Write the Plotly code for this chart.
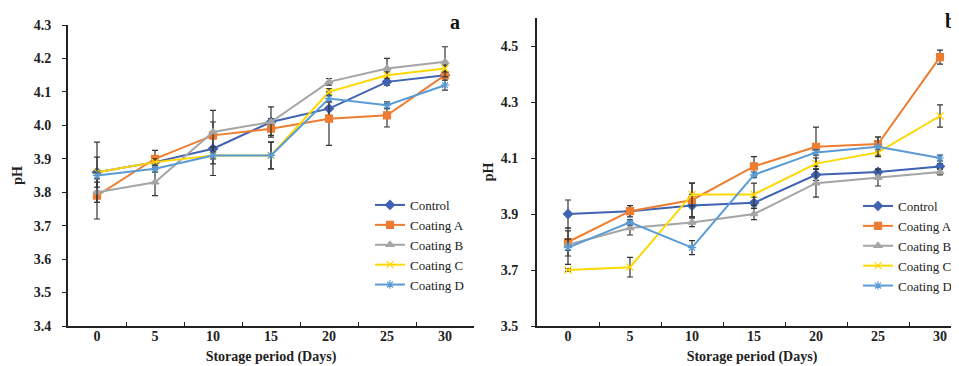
import plotly.graph_objects as go

days = ["0", "5", "10", "15", "20", "25", "30"]
series_names = ["Control", "Coating A", "Coating B", "Coating C", "Coating D"]

# Panel a
a_control = [3.86, 3.89, 3.93, 4.01, 4.05, 4.13, 4.15]
a_coat_a = [3.79, 3.90, 3.97, 3.99, 4.02, 4.03, 4.15]
a_coat_b = [3.80, 3.83, 3.98, 4.01, 4.13, 4.17, 4.19]
a_coat_c = [3.86, 3.89, 3.91, 3.91, 4.10, 4.15, 4.17]
a_coat_d = [3.85, 3.87, 3.91, 3.91, 4.08, 4.06, 4.12]
a_err_control = [0.045, 0.01, 0.08, 0.01, 0.02, 0.01, 0.01]
a_err_a = [0.07, 0.025, 0.01, 0.02, 0.08, 0.035, 0.01]
a_err_b = [0.03, 0.04, 0.065, 0.045, 0.01, 0.03, 0.045]
a_err_c = [0.09, 0.01, 0.01, 0.04, 0.01, 0.01, 0.01]
a_err_d = [0.01, 0.01, 0.025, 0.04, 0.01, 0.01, 0.015]

# Panel b
b_control = [3.90, 3.91, 3.93, 3.94, 4.04, 4.05, 4.07]
b_coat_a = [3.80, 3.91, 3.95, 4.07, 4.14, 4.15, 4.46]
b_coat_b = [3.79, 3.85, 3.87, 3.90, 4.01, 4.03, 4.05]
b_coat_c = [3.70, 3.71, 3.97, 3.97, 4.08, 4.12, 4.25]
b_coat_d = [3.78, 3.87, 3.78, 4.04, 4.12, 4.14, 4.10]
b_err_control = [0.05, 0.01, 0.04, 0.02, 0.02, 0.01, 0.01]
b_err_a = [0.05, 0.02, 0.06, 0.035, 0.07, 0.025, 0.025]
b_err_b = [0.02, 0.025, 0.015, 0.02, 0.05, 0.03, 0.01]
b_err_c = [0.005, 0.035, 0.04, 0.04, 0.02, 0.01, 0.04]
b_err_d = [0.06, 0.01, 0.025, 0.01, 0.01, 0.035, 0.01]

colors = ["#3F62B2", "#ED7D31", "#A5A5A5", "#FFD700", "#5B9BD5"]
symbols = ["diamond", "square", "triangle-up", "x-thin-open", "asterisk-open"]

SERIF = "Liberation Serif, Times New Roman, DejaVu Serif, serif"

fig = go.Figure()

panel_a = [a_control, a_coat_a, a_coat_b, a_coat_c, a_coat_d]
panel_a_err = [a_err_control, a_err_a, a_err_b, a_err_c, a_err_d]
panel_b = [b_control, b_coat_a, b_coat_b, b_coat_c, b_coat_d]
panel_b_err = [b_err_control, b_err_a, b_err_b, b_err_c, b_err_d]

for i, name in enumerate(series_names):
    fig.add_trace(go.Scatter(
        x=days, y=panel_a[i], name=name, mode="lines+markers",
        line=dict(color=colors[i], width=2),
        marker=dict(symbol=symbols[i], size=7, color=colors[i],
                    line=dict(color=colors[i], width=1.2)),
        error_y=dict(type="data", array=panel_a_err[i], color="#333333",
                     thickness=1.2, width=3),
        xaxis="x", yaxis="y", legend="legend"))
for i, name in enumerate(series_names):
    fig.add_trace(go.Scatter(
        x=days, y=panel_b[i], name=name, mode="lines+markers",
        line=dict(color=colors[i], width=2),
        marker=dict(symbol=symbols[i], size=7, color=colors[i],
                    line=dict(color=colors[i], width=1.2)),
        error_y=dict(type="data", array=panel_b_err[i], color="#333333",
                     thickness=1.2, width=3),
        xaxis="x2", yaxis="y2", legend="legend2"))

W, H = 959, 366
tickfont = dict(family=SERIF, size=14, color="#222222", weight="bold")
titlefont = dict(family=SERIF, size=14, color="#222222", weight="bold")

def xax(domain, rng):
    return dict(domain=domain, type="category", range=rng, tickson="boundaries",
                ticks="inside", ticklen=4, tickwidth=1.2, tickcolor="#222",
                showline=True, linecolor="#222", linewidth=1.8,
                showgrid=False, zeroline=False, tickfont=tickfont,
                ticklabelstandoff=-4,
                title=dict(text="Storage period (Days)", font=titlefont, standoff=8))

def yax(domain, rng, tick0, dtick, anchor, so, tso):
    return dict(domain=domain, range=rng, dtick=dtick, tick0=tick0, tickformat=".1f",
                ticks="outside", ticklen=4, tickwidth=1.2, tickcolor="#222",
                showline=True, linecolor="#222", linewidth=1.8,
                showgrid=False, zeroline=False, anchor=anchor, tickfont=tickfont,
                ticklabelstandoff=so,
                title=dict(text="pH", font=titlefont, standoff=tso))

ybot = (H - 318) / H
legfont = dict(family=SERIF, size=13, color="#222")
fig.update_layout(
    width=W, height=H,
    margin=dict(l=0, r=0, t=0, b=0, autoexpand=False),
    paper_bgcolor="white", plot_bgcolor="white",
    xaxis=dict(xax([60 / W, 466 / W], [-0.5, 6.5]), anchor="y"),
    yaxis=yax([ybot, (H - 17) / H], [3.4, 4.3], 3.4, 0.1, "x", 8, 8),
    xaxis2=dict(xax([529 / W, 1.0], [-0.5, -0.5 + (959 - 529) / 62]), anchor="y2"),
    yaxis2=yax([ybot, (H - 10) / H], [3.5, 4.6], 3.5, 0.2, "x2", 10, 4),
    legend=dict(x=362 / W, y=(H - 182) / H, xanchor="left", yanchor="top",
                font=legfont, bgcolor="rgba(0,0,0,0)", itemwidth=30, tracegroupgap=0),
    legend2=dict(x=850 / W, y=(H - 183) / H, xanchor="left", yanchor="top",
                 font=legfont, bgcolor="rgba(0,0,0,0)", itemwidth=30, tracegroupgap=0),
    annotations=[
        dict(text="<b>a</b>", x=447 / W, y=(H - 14) / H, xref="paper", yref="paper",
             xanchor="center", yanchor="middle",
             showarrow=False, font=dict(family=SERIF, size=20, color="#111")),
        dict(text="<b>b</b>", x=942 / W, y=(H - 13) / H, xref="paper", yref="paper",
             xanchor="center", yanchor="middle",
             showarrow=False, font=dict(family=SERIF, size=20, color="#111")),
    ],
    showlegend=True,
)

fig.write_html("out.html")
